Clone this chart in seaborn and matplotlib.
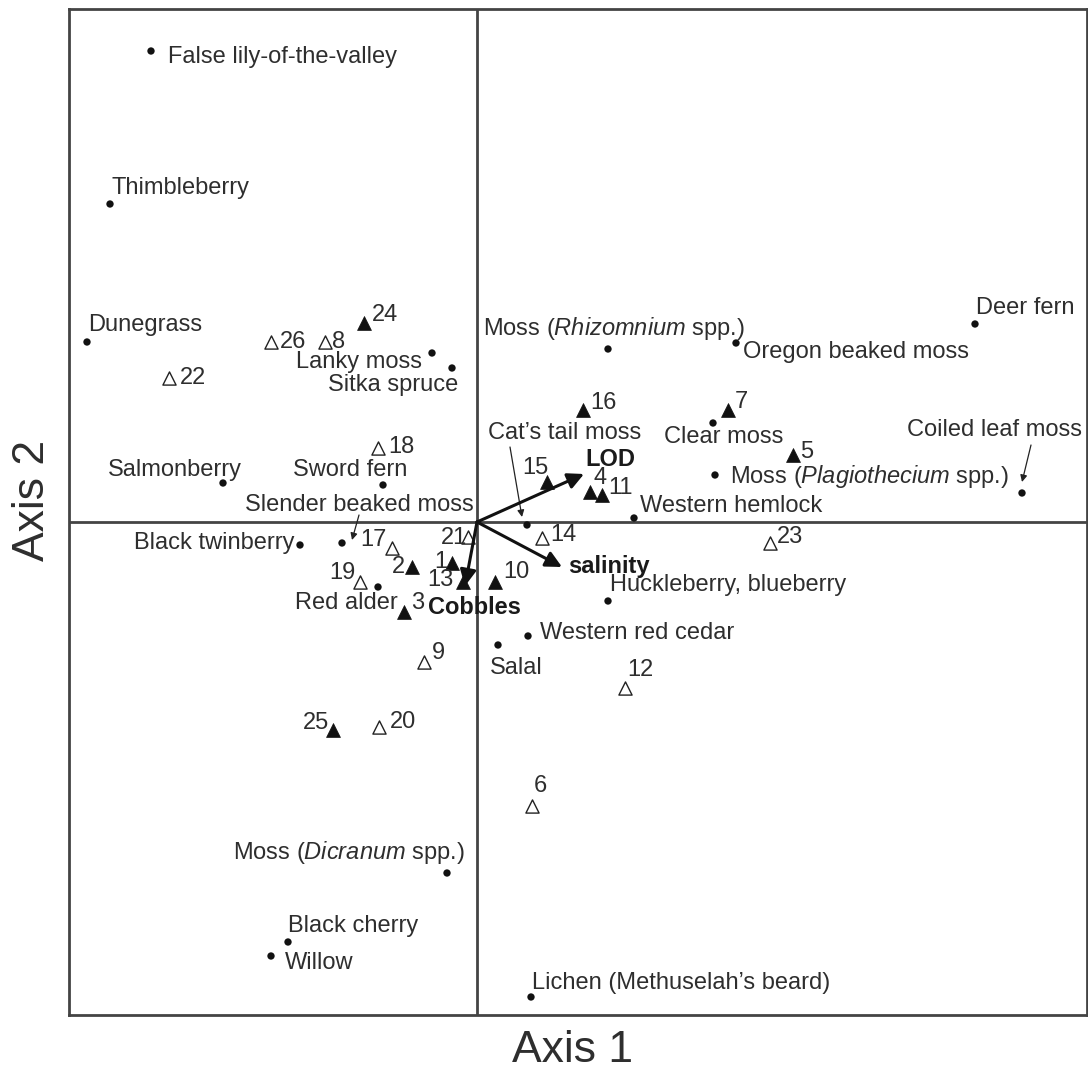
import matplotlib
matplotlib.use("Agg")
import matplotlib.pyplot as plt
from matplotlib.transforms import offset_copy
import pandas as pd
import seaborn as sns

# species scores (axis 1, axis 2)
species = ["False lily-of-the-valley", "Thimbleberry", "Dunegrass", "Salmonberry",
           "Lanky moss", "Sitka spruce", "Sword fern", "Slender beaked moss",
           "Black twinberry", "Red alder", "Moss ($\\mathit{Rhizomnium}$ spp.)",
           "Oregon beaked moss", "Deer fern", "Clear moss",
           "Moss ($\\mathit{Plagiothecium}$ spp.)", "Coiled leaf moss",
           "Western hemlock", "Cat\u2019s tail moss", "Huckleberry, blueberry",
           "Western red cedar", "Salal", "Moss ($\\mathit{Dicranum}$ spp.)",
           "Black cherry", "Willow", "Lichen (Methuselah\u2019s beard)"]
sp_x = [-3.26, -3.67, -3.90, -2.54, -0.45, -0.25, -0.94, -1.35, -1.77, -0.99,
        1.31, 2.59, 4.98, 2.36, 2.38, 5.45, 1.57, 0.50, 1.31, 0.51, 0.21,
        -0.30, -1.89, -2.06, 0.54]
sp_y = [4.71, 3.18, 1.80, 0.39, 1.69, 1.54, 0.37, -0.21, -0.23, -0.65,
        1.73, 1.79, 1.98, 0.99, 0.47, 0.29, 0.04, -0.03, -0.79, -1.14, -1.23,
        -3.51, -4.20, -4.34, -4.75]

# site scores; filled = True for solid triangles
sites = list(range(1, 27))
site_x = [-0.25, -0.65, -0.73, 1.13, 3.16, 0.55, 2.51, -1.52, -0.53, 0.18,
          1.25, 1.48, -0.14, 0.65, 0.70, 1.06, -0.85, -0.99, -1.17, -0.98,
          -0.09, -3.08, 2.93, -1.13, -1.44, -2.06]
site_y = [-0.41, -0.45, -0.90, 0.30, 0.67, -2.84, 1.12, 1.80, -1.40, -0.60,
          0.27, -1.66, -0.60, -0.16, 0.40, 1.12, -0.26, 0.74, -0.60, -2.05,
          -0.15, 1.44, -0.21, 1.99, -2.08, 1.80]
site_filled = [True, True, True, True, True, False, True, False, False, True,
               True, False, True, False, True, True, False, False, False, False,
               False, False, False, True, True, False]

# environmental vectors
env = ["LOD", "salinity", "Cobbles"]
env_x = [1.07, 0.85, -0.12]
env_y = [0.48, -0.45, -0.64]

# label placement (ha, dx px, dy px)
sp_lab = [("left", 17, -6), ("left", 2, 16), ("left", 1, 17), ("right", 19, 13),
          ("right", -10, -9), ("right", 6, -17), ("right", 24, 15), ("right", 132, 38),
          ("right", -6, 2), ("right", 20, -16), ("left", -125, 21), ("left", 7, -9),
          ("left", 1, 16), ("left", -49, -14), ("left", 15, -2), ("right", 60, 63),
          ("left", 6, 12), ("left", -39, 92), ("left", 2, 16), ("left", 12, 3),
          ("left", -8, -23), ("right", 18, 20), ("left", 0, 16), ("left", 14, -7),
          ("left", 1, 14)]
site_lab = [("right", -5, 1), ("right", -7, 0), ("left", 7, 9), ("center", 10, 14),
            ("left", 7, 3), ("center", 8, 20), ("left", 7, 8), ("left", 7, 0),
            ("left", 8, 9), ("left", 8, 10), ("left", 6, 7), ("left", 2, 18),
            ("right", -10, 2), ("left", 8, 3), ("center", -12, 14), ("left", 7, 7),
            ("right", -5, 8), ("left", 10, 1), ("right", -5, 9), ("left", 11, 5),
            ("right", -1, -1), ("left", 11, 0), ("left", 7, 6), ("left", 8, 8),
            ("right", -4, 7), ("left", 9, 0)]
env_lab = [(1, 14), (6, 0), (-37, -21)]
# pointer arrows: species index -> (start dx, dy), (end dx, dy)
pointers = {7: ((17, 28), (10, 3)), 17: ((-17, 78), (-5, 8)), 15: ((9, 48), (0, 11))}

sns.set_style("white")
plt.rcParams["font.family"] = ["Liberation Sans", "DejaVu Sans"]
plt.rcParams["mathtext.fontset"] = "custom"
plt.rcParams["mathtext.rm"] = "Liberation Sans"
plt.rcParams["mathtext.it"] = "Liberation Sans:italic"

txt = "#2e2e2e"
line = "#444444"
fs = 17

fig = plt.figure(figsize=(10.88, 10.69), dpi=100)
ax = fig.add_axes([69 / 1088, 54 / 1069, 1018 / 1088, 1006 / 1069])

df_sp = pd.DataFrame({"x": sp_x, "y": sp_y})
df_site = pd.DataFrame({"x": site_x, "y": site_y, "filled": site_filled})

sns.scatterplot(data=df_sp, x="x", y="y", ax=ax, color="#111111", s=28,
                edgecolor="none", zorder=3)
sns.scatterplot(data=df_site[df_site.filled], x="x", y="y", ax=ax, marker="^",
                color="#111111", s=100, edgecolor="#111111", linewidth=0.5, zorder=4)
sns.scatterplot(data=df_site[~df_site.filled], x="x", y="y", ax=ax, marker="^",
                facecolor="white", s=90, edgecolor="#222222", linewidth=1.0, zorder=4)

ax.axhline(0, color=line, lw=2, zorder=1)
ax.axvline(0, color=line, lw=2, zorder=1)

def off(dx, dy):
    return offset_copy(ax.transData, fig=fig, x=dx, y=dy, units="dots")

for i, name in enumerate(species):
    ha, dx, dy = sp_lab[i]
    ax.text(sp_x[i], sp_y[i], name, transform=off(dx, dy), ha=ha, va="center",
            fontsize=fs, color=txt, zorder=5)
    if i in pointers:
        (sx, sy), (ex, ey) = pointers[i]
        ax.annotate("", xy=(sp_x[i], sp_y[i]), xycoords=off(ex, ey),
                    xytext=(sp_x[i], sp_y[i]), textcoords=off(sx, sy),
                    arrowprops=dict(arrowstyle="-|>", lw=0.9, color="#222222",
                                    mutation_scale=10, shrinkA=0, shrinkB=0))

for i, num in enumerate(sites):
    ha, dx, dy = site_lab[i]
    ax.text(site_x[i], site_y[i], str(num), transform=off(dx, dy), ha=ha,
            va="center", fontsize=fs, color=txt, zorder=5)

for i, name in enumerate(env):
    ax.annotate("", xy=(env_x[i], env_y[i]), xytext=(0, 0),
                arrowprops=dict(arrowstyle="-|>", lw=2.2, color="#111111",
                                mutation_scale=24, shrinkA=0, shrinkB=0), zorder=6)
    dx, dy = env_lab[i]
    ax.text(env_x[i], env_y[i], name, transform=off(dx, dy), ha="left",
            va="center", fontsize=fs, fontweight="bold", color="#1a1a1a", zorder=6)

ax.set_xlim(-4.08, 6.10)
ax.set_ylim(-4.93, 5.13)
ax.set_xticks([])
ax.set_yticks([])
ax.set_xlabel("")
ax.set_ylabel("")
for sp in ax.spines.values():
    sp.set_visible(True)
    sp.set_color(line)
    sp.set_linewidth(2)

fig.text(572 / 1088, 1 - 1050 / 1069, "Axis 1", ha="center", va="center",
         fontsize=32, color=txt)
fig.text(33 / 1088, 1 - 500 / 1069, "Axis 2", ha="center", va="center",
         rotation=90, fontsize=32, color=txt)

fig.savefig("out.png", dpi=100)
